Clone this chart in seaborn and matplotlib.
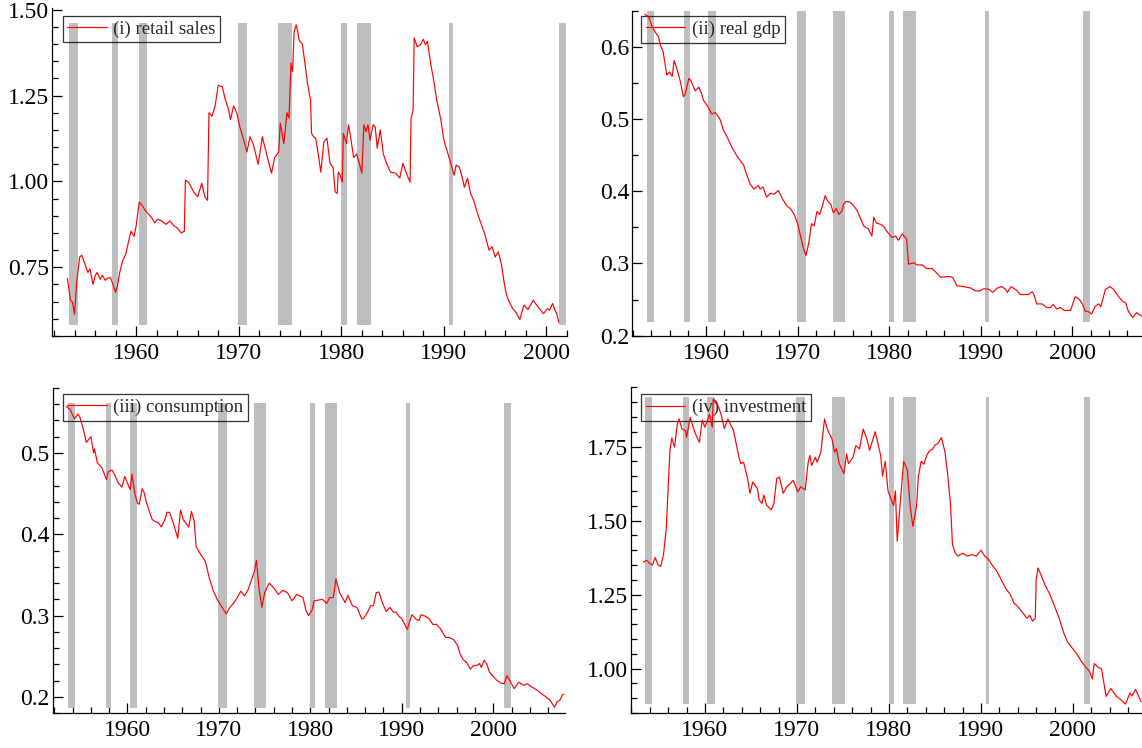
import matplotlib
matplotlib.use("Agg")
import matplotlib.pyplot as plt
import matplotlib.ticker as mticker
from matplotlib.transforms import ScaledTranslation
import seaborn as sns
import pandas as pd

# ---------------- data ----------------
recession_start = [1953.5, 1957.6, 1960.25, 1969.9, 1973.85, 1980.0, 1981.55, 1990.5, 2001.2]
recession_end = [1954.3, 1958.25, 1961.05, 1970.85, 1975.2, 1980.55, 1982.9, 1990.9, 2001.9]

retail_years = [1953.3, 1953.6, 1953.8, 1954.0, 1954.2, 1954.5, 1954.7, 1955.0, 1955.3, 1955.5,
                1955.8, 1956.0, 1956.2, 1956.5, 1956.7, 1957.0, 1957.2, 1957.5, 1957.8, 1958.0,
                1958.2, 1958.4, 1958.7, 1959.0, 1959.3, 1959.5, 1959.8, 1960.0, 1960.3, 1960.6,
                1960.9, 1961.2, 1961.5, 1961.8, 1962.1, 1962.5, 1962.9, 1963.3, 1963.7, 1964.0,
                1964.4, 1964.7, 1964.8, 1965.1, 1965.6, 1966.0, 1966.4, 1966.7, 1966.96, 1967.1,
                1967.4, 1967.7, 1968.0, 1968.4, 1968.7, 1969.0, 1969.2, 1969.5, 1969.8, 1970.1,
                1970.4, 1970.8, 1971.1, 1971.4, 1971.9, 1972.3, 1972.8, 1973.2, 1973.5, 1973.9,
                1974.05, 1974.4, 1974.7, 1974.9, 1975.1, 1975.25, 1975.4, 1975.6, 1975.75, 1975.9,
                1976.2, 1976.5, 1976.7, 1977.0, 1977.1, 1977.3, 1977.5, 1977.8, 1978.0, 1978.3,
                1978.6, 1978.9, 1979.2, 1979.4, 1979.6, 1979.7, 1979.9, 1980.1, 1980.2, 1980.5,
                1980.7, 1980.9, 1981.2, 1981.5, 1981.8, 1982.0, 1982.2, 1982.4, 1982.6, 1982.8,
                1983.1, 1983.3, 1983.5, 1983.8, 1984.1, 1984.4, 1984.8, 1985.3, 1985.7, 1986.0,
                1986.3, 1986.7, 1986.8, 1987.0, 1987.1, 1987.4, 1987.7, 1988.0, 1988.2, 1988.4,
                1988.7, 1989.0, 1989.3, 1989.7, 1990.0, 1990.3, 1990.6, 1991.0, 1991.2, 1991.5,
                1991.8, 1992.0, 1992.3, 1992.6, 1992.9, 1993.3, 1993.7, 1994.0, 1994.4, 1994.7,
                1995.0, 1995.3, 1995.6, 1995.9, 1996.1, 1996.3, 1996.7, 1997.0, 1997.4, 1997.8,
                1998.2, 1998.7, 1999.2, 1999.7, 2000.1, 2000.3, 2000.6, 2000.9, 2001.0, 2001.2]
retail_values = [0.718, 0.654, 0.648, 0.613, 0.706, 0.780, 0.785, 0.760, 0.735, 0.745,
                 0.700, 0.725, 0.735, 0.715, 0.727, 0.712, 0.718, 0.720, 0.695, 0.677,
                 0.700, 0.735, 0.770, 0.790, 0.830, 0.855, 0.840, 0.870, 0.940, 0.930,
                 0.915, 0.905, 0.895, 0.880, 0.890, 0.885, 0.875, 0.885, 0.870, 0.865,
                 0.850, 0.855, 1.004, 0.998, 0.970, 0.955, 0.995, 0.955, 0.945, 1.200,
                 1.190, 1.220, 1.280, 1.276, 1.237, 1.210, 1.180, 1.220, 1.200, 1.160,
                 1.130, 1.086, 1.130, 1.110, 1.050, 1.130, 1.070, 1.024, 1.070, 1.086,
                 1.170, 1.110, 1.200, 1.185, 1.345, 1.320, 1.436, 1.456, 1.436, 1.410,
                 1.400, 1.334, 1.287, 1.237, 1.140, 1.130, 1.126, 1.070, 1.027, 1.115,
                 1.126, 1.053, 1.040, 0.970, 0.965, 1.027, 1.018, 0.998, 1.140, 1.110,
                 1.165, 1.130, 1.070, 1.080, 1.048, 1.024, 1.165, 1.145, 1.165, 1.120,
                 1.165, 1.160, 1.097, 1.150, 1.080, 1.053, 1.027, 1.024, 1.010, 1.053,
                 1.027, 0.998, 1.184, 1.208, 1.418, 1.392, 1.398, 1.414, 1.398, 1.408,
                 1.345, 1.296, 1.237, 1.180, 1.120, 1.090, 1.060, 1.018, 1.048, 1.042,
                 1.010, 0.983, 1.010, 0.965, 0.945, 0.905, 0.870, 0.845, 0.800, 0.810,
                 0.780, 0.795, 0.760, 0.700, 0.670, 0.654, 0.630, 0.620, 0.598, 0.640,
                 0.627, 0.654, 0.634, 0.615, 0.630, 0.625, 0.645, 0.620, 0.616, 0.590]

gdp_years = [1953.3, 1953.7, 1954.1, 1954.5, 1954.8, 1955.0, 1955.3, 1955.7, 1956.0, 1956.3,
             1956.5, 1956.8, 1957.2, 1957.5, 1957.7, 1958.1, 1958.3, 1958.8, 1959.2, 1959.5,
             1959.7, 1960.2, 1960.6, 1961.0, 1961.5, 1961.9, 1962.3, 1962.8, 1963.4, 1964.1,
             1964.4, 1964.8, 1965.2, 1965.7, 1965.9, 1966.2, 1966.6, 1967.0, 1967.4, 1967.9,
             1968.3, 1968.8, 1969.2, 1969.6, 1970.0, 1970.3, 1970.6, 1970.9, 1971.2, 1971.5,
             1971.8, 1972.1, 1972.4, 1972.7, 1973.0, 1973.3, 1973.6, 1973.9, 1974.2, 1974.5,
             1974.8, 1975.0, 1975.3, 1975.7, 1976.1, 1976.5, 1977.2, 1977.7, 1978.1, 1978.3,
             1978.6, 1979.1, 1979.4, 1979.7, 1980.3, 1980.7, 1981.0, 1981.4, 1981.9, 1982.1,
             1982.7, 1983.0, 1983.6, 1984.1, 1984.7, 1985.6, 1986.5, 1986.9, 1987.4, 1988.1,
             1988.9, 1989.4, 1989.9, 1990.3, 1990.9, 1991.3, 1991.8, 1992.3, 1992.7, 1992.9,
             1993.3, 1993.9, 1994.3, 1994.9, 1995.2, 1995.6, 1995.8, 1996.1, 1996.7, 1997.2,
             1997.6, 1997.9, 1998.3, 1998.7, 1999.1, 1999.8, 2000.3, 2000.7, 2001.1, 2001.4,
             2001.8, 2002.1, 2002.5, 2002.9, 2003.1, 2003.6, 2004.1, 2004.5, 2005.0, 2005.5,
             2005.8, 2006.1, 2006.6, 2007.0, 2007.2, 2007.6]
gdp_values = [0.645, 0.642, 0.628, 0.619, 0.614, 0.602, 0.593, 0.561, 0.565, 0.559,
              0.581, 0.570, 0.551, 0.531, 0.534, 0.556, 0.554, 0.539, 0.544, 0.535,
              0.526, 0.517, 0.507, 0.509, 0.500, 0.484, 0.475, 0.461, 0.448, 0.436,
              0.424, 0.410, 0.403, 0.408, 0.403, 0.406, 0.392, 0.397, 0.396, 0.401,
              0.390, 0.380, 0.376, 0.368, 0.355, 0.338, 0.322, 0.311, 0.328, 0.355,
              0.352, 0.372, 0.368, 0.380, 0.394, 0.386, 0.382, 0.370, 0.376, 0.368,
              0.372, 0.382, 0.386, 0.385, 0.380, 0.373, 0.352, 0.348, 0.338, 0.364,
              0.356, 0.354, 0.351, 0.345, 0.336, 0.338, 0.332, 0.341, 0.334, 0.299,
              0.301, 0.298, 0.298, 0.293, 0.293, 0.281, 0.282, 0.281, 0.269, 0.268,
              0.266, 0.262, 0.262, 0.265, 0.264, 0.260, 0.266, 0.268, 0.264, 0.260,
              0.268, 0.263, 0.257, 0.257, 0.257, 0.261, 0.257, 0.244, 0.244, 0.239,
              0.239, 0.243, 0.237, 0.239, 0.235, 0.235, 0.254, 0.251, 0.244, 0.234,
              0.233, 0.230, 0.241, 0.244, 0.240, 0.264, 0.268, 0.264, 0.255, 0.247,
              0.246, 0.234, 0.225, 0.232, 0.230, 0.227]

cons_years = [1953.3, 1953.7, 1954.2, 1954.6, 1954.8, 1955.2, 1955.5, 1955.7, 1956.0, 1956.3,
              1956.4, 1956.7, 1957.2, 1957.7, 1957.9, 1958.3, 1958.6, 1959.0, 1959.4, 1959.7,
              1960.1, 1960.3, 1960.5, 1960.8, 1961.1, 1961.3, 1961.6, 1961.8, 1962.1, 1962.7,
              1963.0, 1963.4, 1963.7, 1964.1, 1964.3, 1964.6, 1965.0, 1965.5, 1965.8, 1966.1,
              1966.7, 1967.0, 1967.3, 1967.5, 1967.9, 1968.5, 1969.0, 1969.4, 1969.8, 1970.3,
              1970.8, 1971.2, 1971.6, 1972.0, 1972.4, 1972.8, 1973.2, 1973.6, 1973.9, 1974.1,
              1974.4, 1974.7, 1975.0, 1975.5, 1976.0, 1976.5, 1977.0, 1977.5, 1978.0, 1978.5,
              1979.2, 1979.5, 1979.8, 1980.2, 1980.4, 1980.9, 1981.3, 1981.8, 1982.1, 1982.5,
              1982.8, 1983.2, 1983.8, 1984.1, 1984.6, 1985.1, 1985.6, 1985.8, 1986.2, 1986.6,
              1986.9, 1987.2, 1987.5, 1987.9, 1988.3, 1988.7, 1989.1, 1989.4, 1989.6, 1990.0,
              1990.6, 1991.1, 1991.6, 1991.9, 1992.1, 1992.6, 1993.0, 1993.4, 1993.8, 1994.2,
              1994.8, 1995.2, 1995.7, 1996.1, 1996.4, 1996.7, 1997.1, 1997.5, 1997.8, 1998.3,
              1998.5, 1998.7, 1999.0, 1999.3, 1999.6, 2000.1, 2000.4, 2000.8, 2001.2, 2001.5,
              2001.9, 2002.3, 2002.8, 2003.3, 2003.7, 2004.1, 2004.8, 2005.5, 2006.2, 2006.7,
              2007.0, 2007.3, 2007.6, 2007.7]
cons_values = [0.557, 0.554, 0.542, 0.548, 0.544, 0.528, 0.513, 0.516, 0.520, 0.500,
               0.505, 0.488, 0.482, 0.467, 0.477, 0.479, 0.473, 0.463, 0.458, 0.471,
               0.460, 0.455, 0.474, 0.450, 0.438, 0.437, 0.456, 0.452, 0.438, 0.418,
               0.416, 0.414, 0.409, 0.418, 0.427, 0.427, 0.414, 0.395, 0.430, 0.418,
               0.409, 0.428, 0.416, 0.385, 0.377, 0.367, 0.344, 0.330, 0.320, 0.311,
               0.302, 0.310, 0.315, 0.322, 0.330, 0.324, 0.332, 0.345, 0.355, 0.368,
               0.332, 0.310, 0.328, 0.340, 0.334, 0.326, 0.331, 0.328, 0.318, 0.326,
               0.322, 0.307, 0.300, 0.307, 0.318, 0.319, 0.320, 0.315, 0.322, 0.322,
               0.345, 0.328, 0.316, 0.325, 0.312, 0.310, 0.296, 0.296, 0.303, 0.312,
               0.312, 0.328, 0.329, 0.315, 0.305, 0.310, 0.304, 0.304, 0.300, 0.296,
               0.283, 0.301, 0.295, 0.294, 0.301, 0.299, 0.296, 0.289, 0.289, 0.284,
               0.273, 0.273, 0.270, 0.263, 0.252, 0.246, 0.242, 0.234, 0.238, 0.239,
               0.241, 0.236, 0.245, 0.240, 0.230, 0.224, 0.220, 0.217, 0.216, 0.226,
               0.218, 0.210, 0.218, 0.214, 0.216, 0.213, 0.208, 0.202, 0.196, 0.187,
               0.194, 0.196, 0.203, 0.203]

inv_years = [1953.3, 1953.7, 1954.0, 1954.3, 1954.6, 1954.9, 1955.2, 1955.5, 1955.8, 1956.2,
             1956.4, 1956.7, 1957.0, 1957.2, 1957.5, 1957.9, 1958.0, 1958.4, 1958.9, 1959.4,
             1959.7, 1960.0, 1960.5, 1960.8, 1960.9, 1961.5, 1961.8, 1962.1, 1962.5, 1963.1,
             1963.7, 1963.9, 1964.2, 1964.6, 1964.9, 1965.2, 1965.7, 1965.9, 1966.2, 1966.4,
             1966.7, 1967.2, 1967.5, 1967.8, 1968.1, 1968.5, 1968.9, 1969.3, 1969.6, 1970.1,
             1970.4, 1970.9, 1971.2, 1971.4, 1971.6, 1972.0, 1972.2, 1972.6, 1973.0, 1973.3,
             1973.8, 1974.1, 1974.3, 1974.6, 1975.1, 1975.4, 1975.6, 1976.1, 1976.4, 1976.8,
             1977.2, 1977.6, 1977.9, 1978.5, 1979.1, 1979.3, 1979.6, 1979.9, 1980.5, 1980.7,
             1980.9, 1981.2, 1981.6, 1982.0, 1982.3, 1982.6, 1983.0, 1983.2, 1983.5, 1983.8,
             1984.1, 1984.4, 1984.7, 1985.0, 1985.3, 1985.7, 1986.1, 1986.4, 1986.7, 1986.9,
             1987.2, 1987.5, 1988.0, 1988.5, 1989.0, 1989.5, 1990.0, 1990.4, 1990.8, 1991.2,
             1991.7, 1992.2, 1992.7, 1993.2, 1993.6, 1994.0, 1994.5, 1995.0, 1995.3, 1995.6,
             1995.9, 1996.0, 1996.2, 1996.6, 1997.0, 1997.5, 1998.0, 1998.5, 1999.0, 1999.4,
             2000.4, 2001.0, 2001.8, 2002.1, 2002.3, 2002.8, 2003.1, 2003.6, 2004.1, 2004.7,
             2005.2, 2005.7, 2006.2, 2006.4, 2006.8, 2007.4]
inv_values = [1.360, 1.365, 1.355, 1.350, 1.375, 1.350, 1.345, 1.385, 1.474, 1.737,
              1.779, 1.748, 1.826, 1.843, 1.809, 1.804, 1.781, 1.848, 1.798, 1.764,
              1.839, 1.815, 1.859, 1.815, 1.910, 1.882, 1.854, 1.811, 1.843, 1.804,
              1.714, 1.692, 1.697, 1.647, 1.592, 1.630, 1.608, 1.569, 1.558, 1.586,
              1.552, 1.536, 1.558, 1.642, 1.647, 1.592, 1.614, 1.625, 1.636, 1.597,
              1.614, 1.603, 1.692, 1.720, 1.686, 1.714, 1.697, 1.731, 1.843, 1.809,
              1.776, 1.731, 1.742, 1.692, 1.659, 1.725, 1.692, 1.714, 1.753, 1.742,
              1.809, 1.776, 1.737, 1.800, 1.720, 1.650, 1.700, 1.600, 1.550, 1.600,
              1.430, 1.550, 1.700, 1.670, 1.550, 1.480, 1.550, 1.650, 1.700, 1.690,
              1.720, 1.735, 1.740, 1.755, 1.760, 1.780, 1.730, 1.650, 1.550, 1.420,
              1.390, 1.380, 1.390, 1.380, 1.385, 1.380, 1.400, 1.380, 1.370, 1.350,
              1.330, 1.300, 1.270, 1.250, 1.220, 1.210, 1.190, 1.170, 1.180, 1.160,
              1.170, 1.300, 1.340, 1.310, 1.280, 1.250, 1.210, 1.170, 1.120, 1.090,
              1.050, 1.020, 0.990, 0.965, 1.017, 1.003, 1.000, 0.906, 0.933, 0.907,
              0.895, 0.880, 0.918, 0.907, 0.930, 0.888]

labels = ["(i) retail sales", "(ii) real gdp", "(iii) consumption", "(iv) investment"]
ytick_fmt = ["%.2f", "%.1f", "%.1f", "%.2f"]
xtick_labels = ["1960", "1970", "1980", "1990", "2000"]

# ---------------- style ----------------
sns.set_theme(style="ticks")
plt.rcParams["font.family"] = ["Liberation Serif", "DejaVu Serif"]
plt.rcParams["axes.linewidth"] = 0.9

W, H = 1142, 748
fig = plt.figure(figsize=(W / 100, H / 100), dpi=100)

# pixel boxes: left, right, top, bottom
boxes = [(52, 567, 8, 336), (632, 1142, 10.7, 335.7),
         (52.5, 565, 388, 713), (631.3, 1142, 387.3, 713)]
xlims = [(1951.8, 2002.0), (1951.9, 2007.6), (1951.8, 2007.85), (1952.0, 2007.5)]
ylims = [(0.55, 1.505), (0.2, 0.65), (0.18, 0.58), (0.85, 1.95)]
ymajor = [0.25, 0.1, 0.1, 0.25]
yminor = [0.05, 0.05, 0.02, 0.05]
bar_ranges = [(0.582, 1.462), (0.219, 0.65), (0.186, 0.562), (0.88, 1.918)]
legend_off = [(10.7, 7.7), (9, 5.3), (10, 6), (10, 7)]

series = [(retail_years, retail_values), (gdp_years, gdp_values),
          (cons_years, cons_values), (inv_years, inv_values)]

for i in range(4):
    l, r, t, b = boxes[i]
    ax = fig.add_axes([l / W, 1 - b / H, (r - l) / W, (b - t) / H])
    lo, hi = bar_ranges[i]
    widths = [e - s for s, e in zip(recession_start, recession_end)]
    ax.bar(recession_start, [hi - lo] * len(widths), width=widths, bottom=lo,
           align="edge", color="#bebebe", linewidth=0, zorder=1)
    df = pd.DataFrame({"year": series[i][0], "value": series[i][1]})
    sns.lineplot(data=df, x="year", y="value", ax=ax, color="red", linewidth=0.85,
                 label=labels[i], zorder=3)
    ax.set_xlim(*xlims[i])
    ax.set_ylim(*ylims[i])
    ax.set_xlabel("")
    ax.set_ylabel("")
    ax.xaxis.set_major_locator(mticker.FixedLocator([1960, 1970, 1980, 1990, 2000]))
    ax.xaxis.set_major_formatter(mticker.FixedFormatter(xtick_labels))
    ax.xaxis.set_minor_locator(mticker.MultipleLocator(2))
    ax.yaxis.set_major_locator(mticker.MultipleLocator(ymajor[i]))
    ax.yaxis.set_minor_locator(mticker.MultipleLocator(yminor[i]))
    ax.yaxis.set_major_formatter(mticker.FormatStrFormatter(ytick_fmt[i]))
    ax.tick_params(which="both", direction="in", width=0.9, colors="black",
                   labelsize=17)
    ax.tick_params(which="major", length=7)
    ax.tick_params(which="minor", length=4)
    ax.tick_params(axis="x", which="major", pad=5)
    ax.tick_params(axis="y", which="major", pad=2)
    sns.despine(ax=ax)
    for sp in ["left", "bottom"]:
        ax.spines[sp].set_color("black")
    dx, dy = legend_off[i]
    leg = ax.legend(loc="upper left", bbox_to_anchor=(0, 1),
                    bbox_transform=ax.transAxes + ScaledTranslation(dx / 100, -dy / 100, fig.dpi_scale_trans),
                    frameon=True, fancybox=False, fontsize=13.5, handlelength=2.1,
                    handletextpad=0.35, borderpad=0.25, borderaxespad=0)
    fr = leg.get_frame()
    fr.set_facecolor("none")
    fr.set_edgecolor("black")
    fr.set_linewidth(0.9)
    leg.set_zorder(2)

fig.savefig("out.png", dpi=100)
